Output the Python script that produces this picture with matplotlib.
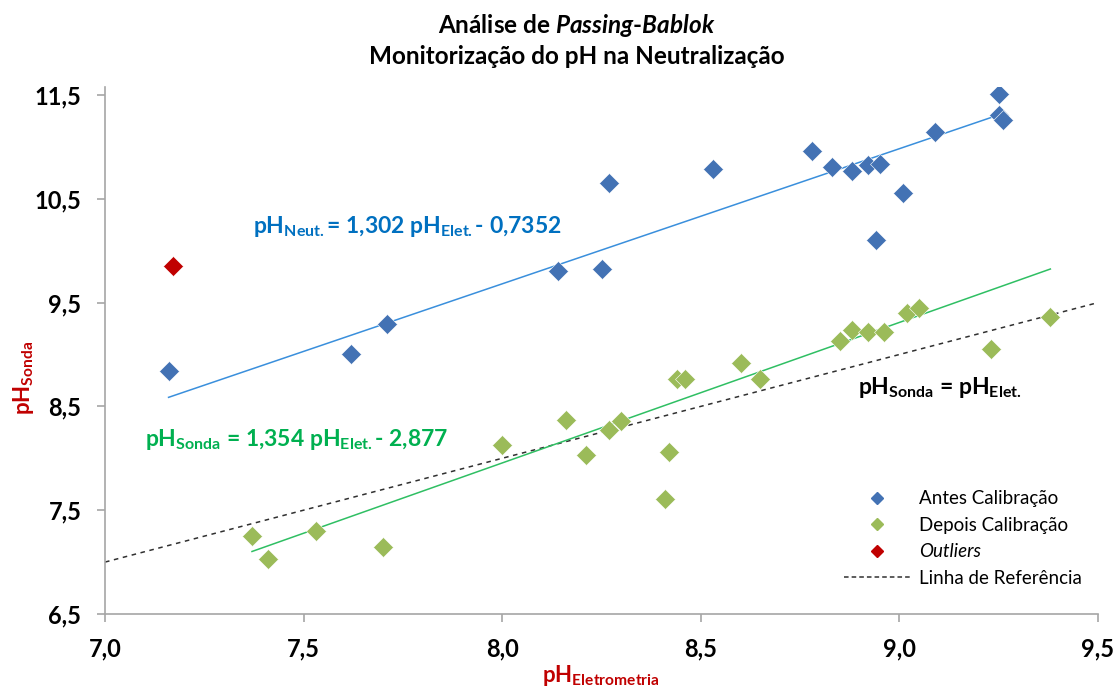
import matplotlib
matplotlib.use("Agg")
import matplotlib.pyplot as plt
from matplotlib.lines import Line2D
from matplotlib.ticker import FuncFormatter

plt.rcParams["font.family"] = ["Lato", "DejaVu Sans"]
plt.rcParams["mathtext.fontset"] = "custom"
plt.rcParams["mathtext.rm"] = "Lato:bold"
plt.rcParams["mathtext.bf"] = "Lato:bold"
plt.rcParams["mathtext.it"] = "Lato:bold:italic"

# Antes calibração (pH eletrometria, pH sonda)
antes_x = [7.16, 7.62, 7.71, 8.14, 8.25, 8.27, 8.53, 8.78, 8.83, 8.88, 8.92,
           8.95, 9.01, 8.94, 9.09, 9.25, 9.25, 9.26]
antes_y = [8.84, 9.00, 9.29, 9.80, 9.82, 10.65, 10.79, 10.96, 10.81, 10.77,
           10.83, 10.84, 10.56, 10.10, 11.14, 11.51, 11.31, 11.26]

# Depois calibração
depois_x = [7.37, 7.41, 7.53, 7.70, 8.00, 8.16, 8.21, 8.27, 8.30, 8.42, 8.41,
            8.44, 8.46, 8.60, 8.65, 8.85, 8.88, 8.92, 8.96, 9.02, 9.05, 9.23,
            9.38]
depois_y = [7.25, 7.03, 7.30, 7.15, 8.13, 8.37, 8.03, 8.27, 8.36, 8.06, 7.61,
            8.76, 8.76, 8.92, 8.76, 9.13, 9.24, 9.22, 9.22, 9.40, 9.45, 9.05,
            9.36]

# Outliers
outlier_x = [7.17]
outlier_y = [9.85]

# Passing-Bablok regressions
antes_slope, antes_icpt = 1.302, -0.7352
depois_slope, depois_icpt = 1.354, -2.877
ref_x = [7.0, 9.5]

BLUE = "#4372b4"
GREEN = "#9bbb59"
RED = "#c00000"
BLUE_LINE = "#3a8fdc"
GREEN_LINE = "#2fbf63"
GRAY = "#a6a6a6"

fig = plt.figure(figsize=(11.16, 6.87), dpi=100)
ax = fig.add_axes([0.0941, 0.1063, 0.8898, 0.7675])

ax.plot(ref_x, ref_x, color="#303030", linestyle=(0, (3, 3)), linewidth=1.1,
        zorder=2)

ax_fit = [min(antes_x), max(antes_x)]
ax.plot(ax_fit, [antes_slope * v + antes_icpt for v in ax_fit],
        color=BLUE_LINE, linewidth=1.1, zorder=2)
dx_fit = [min(depois_x), max(depois_x)]
ax.plot(dx_fit, [depois_slope * v + depois_icpt for v in dx_fit],
        color=GREEN_LINE, linewidth=1.1, zorder=2)

ax.plot(antes_x, antes_y, linestyle="none", marker="D", markersize=10.5,
        color=BLUE, markeredgecolor="white", markeredgewidth=0.4, zorder=3)
ax.plot(depois_x, depois_y, linestyle="none", marker="D", markersize=10.5,
        color=GREEN, markeredgecolor="white", markeredgewidth=0.4, zorder=3)
ax.plot(outlier_x, outlier_y, linestyle="none", marker="D", markersize=10.5,
        color=RED, markeredgecolor="white", markeredgewidth=0.4, zorder=3)

ax.set_xlim(7.0, 9.5)
ax.set_ylim(6.5, 11.58)
ax.set_xticks([7.0, 7.5, 8.0, 8.5, 9.0, 9.5])
ax.set_yticks([6.5, 7.5, 8.5, 9.5, 10.5, 11.5])
comma = FuncFormatter(lambda v, p: f"{v:.1f}".replace(".", ","))
ax.xaxis.set_major_formatter(comma)
ax.yaxis.set_major_formatter(comma)

for side in ["top", "right"]:
    ax.spines[side].set_visible(False)
for side in ["left", "bottom"]:
    ax.spines[side].set_color(GRAY)
    ax.spines[side].set_linewidth(1.2)
ax.tick_params(axis="both", direction="out", length=6, width=1.2,
               color=GRAY, labelsize=17, pad=11)
for lab in ax.get_xticklabels() + ax.get_yticklabels():
    lab.set_fontweight("bold")

# equations
ax.text(7.373, 10.23, r"pH$_{\mathbf{Neut.}}$= 1,302 pH$_{\mathbf{Elet.}}$- 0,7352",
        color="#0070c0", fontsize=16.5, fontweight="bold", va="center")
ax.text(7.1, 8.18, r"pH$_{\mathbf{Sonda}}$ = 1,354 pH$_{\mathbf{Elet.}}$- 2,877",
        color="#00b050", fontsize=16.5, fontweight="bold", va="center")
ax.text(8.895, 8.68, r"pH$_{\mathbf{Sonda}}$ = pH$_{\mathbf{Elet.}}$",
        color="black", fontsize=16.5, fontweight="bold", va="center")

# titles and axis labels
fig.text(0.517, 0.963, r"Análise de $\mathit{Passing}$-$\mathit{Bablok}$",
         ha="center", va="center", fontsize=17.5, fontweight="bold")
fig.text(0.517, 0.918, "Monitorização do pH na Neutralização",
         ha="center", va="center", fontsize=17.5, fontweight="bold")
fig.text(23 / 1116, 1 - 378 / 687, r"pH$_{\mathbf{Sonda}}$", rotation=90,
         color=RED, ha="center", va="center", fontsize=16,
         fontweight="bold")
fig.text(0.538, 0.008, r"pH$_{\mathbf{Eletrometria}}$", color=RED,
         ha="center", va="baseline", fontsize=16, fontweight="bold")

handles = [
    Line2D([], [], linestyle="none", marker="D", markersize=6, color=BLUE),
    Line2D([], [], linestyle="none", marker="D", markersize=6, color=GREEN),
    Line2D([], [], linestyle="none", marker="D", markersize=6, color=RED),
    Line2D([], [], color="#303030", linestyle=(0, (3, 2)), linewidth=1.1),
]
labels = ["Antes Calibração", "Depois Calibração", "Outliers",
          "Linha de Referência"]
leg = ax.legend(handles, labels, loc="upper left",
                bbox_to_anchor=(835 / 1116, 1 - 481 / 687),
                bbox_transform=fig.transFigure, frameon=False, fontsize=13.5,
                handlelength=3.5, handletextpad=0.5, labelspacing=0.5,
                borderpad=0)
leg.get_texts()[2].set_fontstyle("italic")

fig.savefig("out.png", dpi=100)
